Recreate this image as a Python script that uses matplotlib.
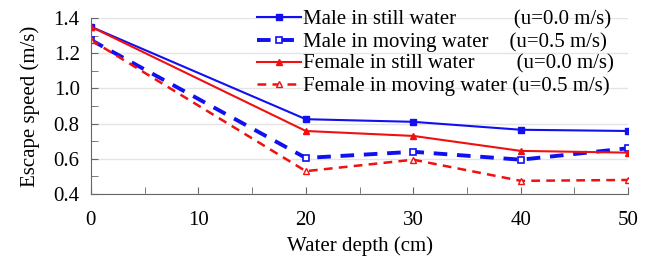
import matplotlib.pyplot as plt
from matplotlib.ticker import MultipleLocator

plt.rcParams['font.family'] = ['Liberation Serif', 'DejaVu Serif']

depth = [0, 20, 30, 40, 50]
male_still = [1.35, 0.825, 0.81, 0.765, 0.758]
male_moving = [1.275, 0.605, 0.64, 0.595, 0.66]
female_still = [1.35, 0.758, 0.73, 0.645, 0.635]
female_moving = [1.275, 0.53, 0.595, 0.475, 0.48]

labels = [
    "Male in still water" + " " * 11 + "(u=0.0 m/s)",
    "Male in moving water" + " " * 4 + "(u=0.5 m/s)",
    "Female in still water" + " " * 8 + "(u=0.0 m/s)",
    "Female in moving water (u=0.5 m/s)",
]

blue = "#1010f0"
red = "#f01010"

fig = plt.figure(figsize=(6.49, 2.56), dpi=100)
ax = fig.add_axes([0.140, 0.242, 0.828, 0.688])

ax.plot(depth, male_still, color=blue, lw=1.5, marker="s", ms=5,
        label=labels[0])
ax.plot(depth, male_moving, color=blue, lw=2.8, ls=(0, (3.5, 2.5)), marker="s",
        ms=5, mfc="white", mew=1.2, label=labels[1])
ax.plot(depth, female_still, color=red, lw=1.5, marker="^", ms=5,
        label=labels[2])
ax.plot(depth, female_moving, color=red, lw=1.8, ls=(0, (3.5, 2.5)), marker="^",
        ms=5, mfc="white", mew=1.0, label=labels[3])

ax.set_xlim(0, 50)
ax.set_ylim(0.4, 1.4)
ax.xaxis.set_major_locator(MultipleLocator(10))
ax.xaxis.set_minor_locator(MultipleLocator(5))
ax.yaxis.set_major_locator(MultipleLocator(0.2))
ax.yaxis.set_minor_locator(MultipleLocator(0.1))
ax.yaxis.set_major_formatter(plt.FormatStrFormatter("%.1f"))
ax.tick_params(which="both", direction="in", labelsize=15, color="#666666")
ax.tick_params(which="both", length=5)
ax.tick_params(axis="x", pad=12)
ax.tick_params(axis="y", pad=8)
ax.grid(axis="y", color="#e4e4e4", lw=1)
ax.set_axisbelow(True)
for side in ["top", "right"]:
    ax.spines[side].set_visible(False)
for side in ["left", "bottom"]:
    ax.spines[side].set_color("#666666")

ax.set_xlabel("Water depth (cm)", fontsize=15, labelpad=5)
ax.set_ylabel("Escape speed (m/s)", fontsize=15, labelpad=10)

ax.legend(loc="upper left", bbox_to_anchor=(0.309, 1.045), frameon=False,
          fontsize=15, handlelength=2.1, handletextpad=0.1, labelspacing=0.12,
          borderaxespad=0, borderpad=0)

fig.savefig("out.png", dpi=100)
